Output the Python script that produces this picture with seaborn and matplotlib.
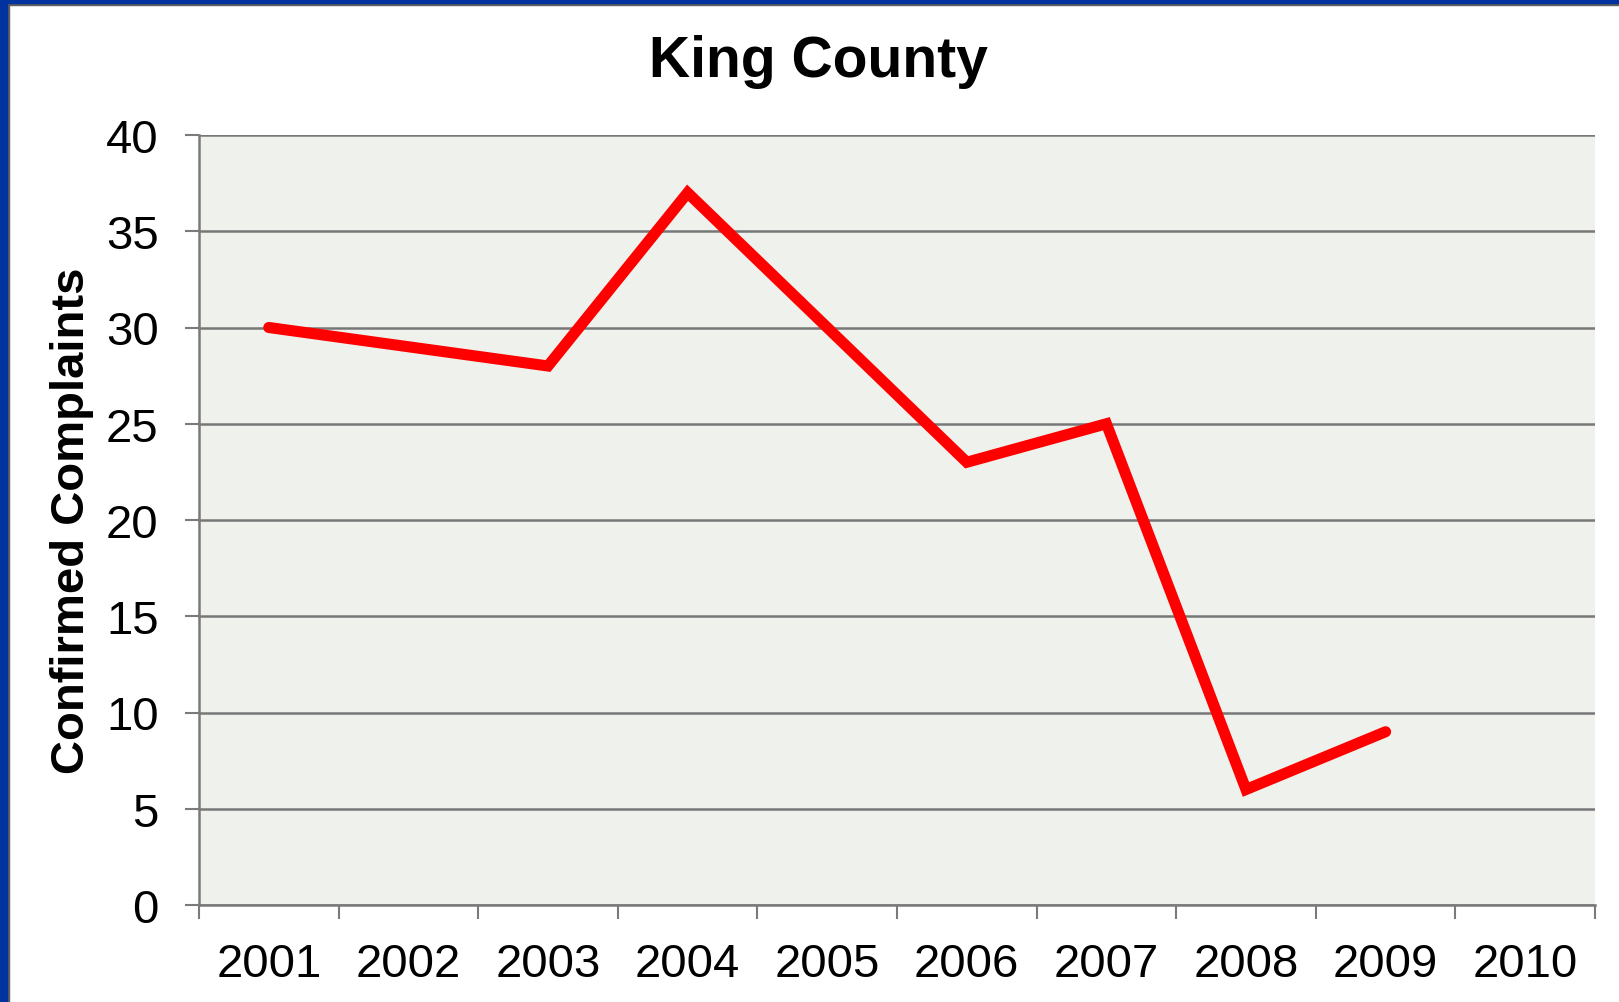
import pandas as pd
import numpy as np
import matplotlib
matplotlib.use('Agg')
import matplotlib.pyplot as plt
import matplotlib.patches as mpatches
import seaborn as sns

# data
years = ['2001', '2002', '2003', '2004', '2005', '2006', '2007', '2008', '2009', '2010']
complaints = [30, 29, 28, 37, 30, 23, 25, 6, 9, np.nan]
y_ticks = [0, 5, 10, 15, 20, 25, 30, 35, 40]

df = pd.DataFrame({'pos': np.arange(len(years)), 'complaints': complaints})

sns.set_style('white', {'text.color': 'black', 'xtick.color': 'black', 'ytick.color': 'black',
                        'axes.labelcolor': 'black'})
plt.rcParams['font.family'] = ['Liberation Sans', 'DejaVu Sans']

W, H = 1619, 1003
fig = plt.figure(figsize=(W / 100, H / 100), dpi=100)
ax = fig.add_axes([199 / W, 97 / H, 1396 / W, 770 / H])
ax.set_facecolor('#eff1ec')

sns.lineplot(data=df, x='pos', y='complaints', ax=ax, color='#ff0000',
             linewidth=8, solid_capstyle='round', solid_joinstyle='miter')

ax.set_xlim(-0.5, len(years) - 0.5)
ax.set_ylim(0, 40)
ax.set_yticks(y_ticks)
ax.set_yticklabels([str(v) for v in y_ticks], fontsize=34, color='black')
ax.set_xticks(np.arange(len(years)))
ax.set_xticklabels(years, fontsize=34, color='black')
ax.set_xticks(np.arange(-0.5, len(years)), minor=True)
ax.tick_params(axis='x', which='major', bottom=True, length=0, pad=27)
ax.tick_params(axis='x', which='minor', bottom=True, length=10, width=1.5,
               color='#7a7a7a', direction='out')
ax.tick_params(axis='y', which='major', left=True, length=10, width=1.5,
               color='#7a7a7a', labelcolor='black', direction='out', pad=19)

ax.yaxis.grid(True, color='#777777', linewidth=1.8)
ax.set_axisbelow(True)
for side in ['top', 'right']:
    ax.spines[side].set_visible(False)
for side in ['left', 'bottom']:
    ax.spines[side].set_color('#7a7a7a')
    ax.spines[side].set_linewidth(1.8)

ax.set_xlabel('')
ax.set_ylabel('Confirmed Complaints', fontsize=34, fontweight='bold', color='black')
ax.yaxis.set_label_coords(-0.075, 0.5)
fig.text(818 / W, 1 - 62 / H, 'King County', ha='center', va='center',
         fontsize=41, fontweight='bold', color='black')

# slide frame: blue bars on top and left edges
fig.patches.append(mpatches.Rectangle((0, 1 - 6 / H), 1, 6 / H, transform=fig.transFigure,
                                      color='#5f5f5f', zorder=10))
fig.patches.append(mpatches.Rectangle((0, 1 - 4 / H), 1, 4 / H, transform=fig.transFigure,
                                      color='#0033a0', zorder=11))
fig.patches.append(mpatches.Rectangle((0, 0), 9 / W, 1, transform=fig.transFigure,
                                      color='#5f5f5f', zorder=10))
fig.patches.append(mpatches.Rectangle((0, 0), 7 / W, 1, transform=fig.transFigure,
                                      color='#0033a0', zorder=11))

fig.savefig('out.png', dpi=100)
plt.close(fig)
